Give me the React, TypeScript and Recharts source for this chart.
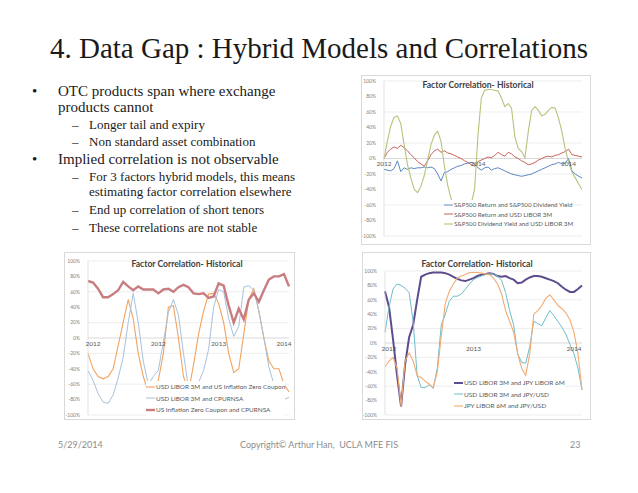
import React from "react";
import { LineChart, Line, XAxis, YAxis, CartesianGrid, ReferenceDot, ReferenceLine } from "recharts";

const yTicks = [-100, -80, -60, -40, -20, 0, 20, 40, 60, 80, 100];

// top right chart: S&P500 vs LIBOR
const spxRetDivYield = [-14, -15, -16, -13, -3, -17, -12, -14, -12, -13, -12, -12, -11, -12, -11, -13, -20, -29, -18, -17, -14, -12, -10, -9, -7, -6, -5, -7, -12, -15, -12, -11, -15, -13, -12, -14, -16, -18, -20, -21, -22, -23, -22, -21, -20, -18, -16, -14, -12, -10, -8, -7, -5, -7, -6, 0, -16, -20, -23, -25];
const spxRetLibor = [0, 8, 12, 15, 13, 17, 14, 10, 5, 1, -4, -7, -10, -3, 5, 10, 12, 8, 10, 7, 6, 4, 2, 0, -3, -5, -8, -10, -4, -2, 0, 2, 1, 4, 8, 5, 3, 8, 6, 2, 0, -3, -5, -8, -7, -5, -2, 0, 2, 3, 2, 4, 5, 7, 9, 12, 5, 4, 3, 2];
const spxDivYieldLibor = [0, 22, 42, 53, 55, 45, 18, -8, -25, -40, -44, -36, -22, -2, 18, 30, 35, 22, -10, -35, -52, -60, -64, -67, -66, -64, -58, -40, 30, 78, 88, 89, 89, 88, 87, 78, 67, 71, 65, 28, 13, 9, 1, 35, 62, 67, 62, 55, 57, 62, 66, 65, 52, 35, 12, -5, -17, -25, -33, -40];
const years1 = [{ at: 0, text: "2012" }, { at: 28, text: "2014" }, { at: 55, text: "2014" }];

// bottom left chart: LIBOR vs inflation
const liborInflZc = [-20, -40, -50, -53, -50, -40, -10, 20, 50, 25, -20, -50, -70, -66, -55, -20, 40, 42, 0, -50, -70, -35, 5, 35, 57, 58, 45, 20, -20, -45, -40, 5, 50, 64, 35, 0, -30, -40, -40, -60, -70];
const liborCpurnsa = [-42, -55, -72, -83, -85, -74, -52, -25, 20, 58, 20, -30, -60, -50, -42, -5, 33, 50, 30, -20, -65, -68, -58, -42, -15, 40, 63, 60, 25, 2, 15, 66, 68, 62, 35, 0, -38, -60, -75, -80, -77];
const inflZcCpurnsa = [74, 72, 64, 53, 53, 57, 62, 73, 67, 62, 67, 63, 63, 63, 58, 63, 64, 60, 66, 69, 66, 58, 57, 58, 52, 54, 71, 68, 42, 20, 38, 24, 50, 58, 47, 62, 76, 80, 80, 83, 67];
const years2 = [{ at: 1, text: "2012" }, { at: 14, text: "2012" }, { at: 26, text: "2013" }, { at: 39, text: "2014" }];

// bottom right chart: USD vs JPY
const usdJpyLibor = [72, 50, 5, -45, -88, -30, 8, 25, 60, 92, 95, 97, 98, 98, 98, 97, 95, 92, 89, 87, 86, 88, 90, 93, 95, 96, 97, 96, 93, 92, 93, 90, 88, 83, 84, 88, 91, 93, 93, 92, 90, 88, 86, 83, 78, 74, 71, 71, 75, 80];
const usdLiborJpyUsd = [15, 50, 75, 82, 80, 76, 70, 30, -45, -62, -62, -58, -63, -35, 25, 40, 58, 65, 65, 68, 75, 82, 88, 91, 93, 95, 96, 96, 93, 87, 70, 45, 25, -15, -27, -28, -5, 30, 27, 24, 35, 45, 38, 30, 22, 12, -2, -15, -35, -65];
const jpyLiborJpyUsd = [-33, -25, -20, -35, -88, -25, -14, -25, -45, -48, -53, -57, -62, -40, 10, 55, 72, 82, 90, 93, 95, 98, 98, 98, 97, 96, 95, 90, 82, 68, 45, 30, 15, -15, -35, -45, -15, 40, 45, 52, 62, 67, 60, 52, 48, 42, 32, 15, -15, -65];
const years3 = [{ at: 1, text: "2012" }, { at: 22, text: "2013" }, { at: 47, text: "2014" }];

const SANS = "Lato, 'Liberation Sans', sans-serif";
const SERIF = "'Liberation Serif', 'DejaVu Serif', serif";

type Series = { key: string; name: string; color: string; width: number; values: number[] };

function toRows(series: Series[]) {
  return series[0].values.map((_, i) => {
    const row: any = { i };
    series.forEach((s) => (row[s.key] = s.values[i]));
    return row;
  });
}

function CorrChart(props: any) {
  const { box, margin, yw, series, years, title, legend } = props;
  const rows = toRows(series);
  return (
    <div
      style={{
        position: "absolute",
        left: box.x,
        top: box.y,
        width: box.w,
        height: box.h,
        outline: "1px solid #d9d9d9",
        background: "#fff",
      }}
    >
      <LineChart width={box.w} height={box.h} data={rows} margin={margin}>
        <CartesianGrid vertical={false} stroke="#e6e6e6" strokeWidth={0.7} />
        <XAxis dataKey="i" type="category" hide />
        <YAxis
          domain={[-100, 100]}
          ticks={yTicks}
          width={yw}
          tickFormatter={(v) => `${v}%`}
          tick={{ fontSize: 5, fill: "#7f7f7f", fontFamily: SANS }}
          tickLine={false}
          axisLine={{ stroke: "#d6d6d6", strokeWidth: 0.7 }}
          tickMargin={2}
        />
        <ReferenceLine y={0} stroke="#c8c8c8" strokeWidth={0.7} />
        {series.map((s: Series) => (
          <Line
            key={s.key}
            dataKey={s.key}
            name={s.name}
            stroke={s.color}
            strokeWidth={s.width}
            dot={false}
            type="linear"
            isAnimationActive={false}
          />
        ))}
        {years.map((t: any, k: number) => (
          <ReferenceDot
            key={k}
            x={t.at}
            y={0}
            r={0}
            fill="none"
            stroke="none"
            label={{ value: t.text, position: "bottom", offset: 3, fontSize: 6.5, fill: "#595959", fontFamily: SANS }}
          />
        ))}
      </LineChart>
      <div
        style={{
          position: "absolute",
          left: title.x,
          top: title.y,
          transform: "translateX(-50%)",
          whiteSpace: "nowrap",
          fontFamily: SANS,
          fontWeight: 700,
          fontSize: 8.6,
          color: "#404040",
        }}
      >
        Factor Correlation- Historical
      </div>
      <div style={{ position: "absolute", left: legend.x, top: legend.y, background: "#fff" }}>
        {series.map((s: Series) => (
          <div
            key={s.key}
            style={{ display: "flex", alignItems: "center", height: legend.gap, whiteSpace: "nowrap" }}
          >
            <svg width={9} height={4} style={{ marginRight: 1 }}>
              <line x1={0} y1={2} x2={9} y2={2} stroke={s.color} strokeWidth={s.width} />
            </svg>
            <span style={{ fontFamily: SANS, fontSize: legend.size, color: "#595959" }}>{s.name}</span>
          </div>
        ))}
      </div>
    </div>
  );
}

const bullets = [
  { top: 84, left: 58, size: 15, mark: "•", text: "OTC products span where exchange" },
  { top: 100, left: 58, size: 15, mark: "", text: "products cannot" },
  { top: 118, left: 89, size: 13, mark: "–", text: "Longer tail and expiry" },
  { top: 135, left: 89, size: 13, mark: "–", text: "Non standard asset combination" },
  { top: 152, left: 58, size: 15, mark: "•", text: "Implied correlation is not observable" },
  { top: 170, left: 89, size: 13, mark: "–", text: "For 3 factors hybrid models, this means" },
  { top: 185, left: 89, size: 13, mark: "", text: "estimating factor correlation elsewhere" },
  { top: 203, left: 89, size: 13, mark: "–", text: "End up correlation of short tenors" },
  { top: 221, left: 89, size: 13, mark: "–", text: "These correlations are not stable" },
];

export default function App() {
  const s1: Series[] = [
    { key: "a", name: "S&P500 Return and S&P500 Dividend Yield", color: "#5b87c4", width: 1, values: spxRetDivYield },
    { key: "b", name: "S&P500 Return and USD LIBOR 3M", color: "#c9605c", width: 1, values: spxRetLibor },
    { key: "c", name: "S&P500 Dividend Yield and USD LIBOR 3M", color: "#b3c57a", width: 1.1, values: spxDivYieldLibor },
  ];
  const s2: Series[] = [
    { key: "a", name: "USD LIBOR 3M and US Inflation Zero Coupon", color: "#f2a35e", width: 1.1, values: liborInflZc },
    { key: "b", name: "USD LIBOR 3M and CPURNSA", color: "#a9c1dc", width: 1, values: liborCpurnsa },
    { key: "c", name: "US Inflation Zero Coupon and CPURNSA", color: "#c97d80", width: 2.4, values: inflZcCpurnsa },
  ];
  const s3: Series[] = [
    { key: "a", name: "USD LIBOR 3M and JPY LIBOR 6M", color: "#5e4d8e", width: 2, values: usdJpyLibor },
    { key: "b", name: "USD LIBOR 3M and JPY/USD", color: "#6fbdc9", width: 1, values: usdLiborJpyUsd },
    { key: "c", name: "JPY LIBOR 6M and JPY/USD", color: "#f2ab72", width: 1.1, values: jpyLiborJpyUsd },
  ];

  return (
    <div style={{ position: "absolute", left: 0, top: 0, width: 638, height: 493, background: "#fff", overflow: "hidden" }}>
      <div
        style={{
          position: "absolute",
          left: 0,
          width: 638,
          top: 32,
          textAlign: "center",
          fontFamily: SERIF,
          fontSize: 29,
          color: "#1a1a1a",
          whiteSpace: "nowrap",
        }}
      >
        4. Data Gap : Hybrid Models and Correlations
      </div>

      {bullets.map((b, k) => (
        <div key={k} style={{ position: "absolute", top: b.top, left: b.left, fontFamily: SERIF, fontSize: b.size, color: "#1a1a1a", whiteSpace: "nowrap", lineHeight: 1 }}>
          {b.mark && (
            <span style={{ position: "absolute", left: b.mark === "•" ? -26 : -17 }}>{b.mark}</span>
          )}
          {b.text}
        </div>
      ))}

      <CorrChart
        box={{ x: 362, y: 76, w: 228, h: 168 }}
        margin={{ top: 5, right: 8, bottom: 8, left: 4 }}
        yw={18}
        series={s1}
        years={years1}
        title={{ x: 116, y: 4 }}
        legend={{ x: 82, y: 124, gap: 9.5, size: 6.2 }}
      />
      <CorrChart
        box={{ x: 65, y: 253, w: 229, h: 166 }}
        margin={{ top: 8, right: 5, bottom: 4, left: 2 }}
        yw={21}
        series={s2}
        years={years2}
        title={{ x: 122, y: 6 }}
        legend={{ x: 81, y: 128, gap: 11.5, size: 6.4 }}
      />
      <CorrChart
        box={{ x: 363, y: 253, w: 227, h: 166 }}
        margin={{ top: 18, right: 8, bottom: 4, left: 2 }}
        yw={20}
        series={s3}
        years={years3}
        title={{ x: 114, y: 6 }}
        legend={{ x: 91, y: 124, gap: 11.5, size: 6.5 }}
      />

      <div style={{ position: "absolute", left: 58, top: 439, fontFamily: SANS, fontSize: 9, color: "#8c8c8c" }}>5/29/2014</div>
      <div style={{ position: "absolute", left: 0, width: 638, textAlign: "center", top: 439, fontFamily: SANS, fontSize: 9, color: "#8c8c8c" }}>
        Copyright© Arthur Han,&nbsp; UCLA MFE FIS
      </div>
      <div style={{ position: "absolute", left: 570, top: 439, fontFamily: SANS, fontSize: 9, color: "#8c8c8c" }}>23</div>
    </div>
  );
}
